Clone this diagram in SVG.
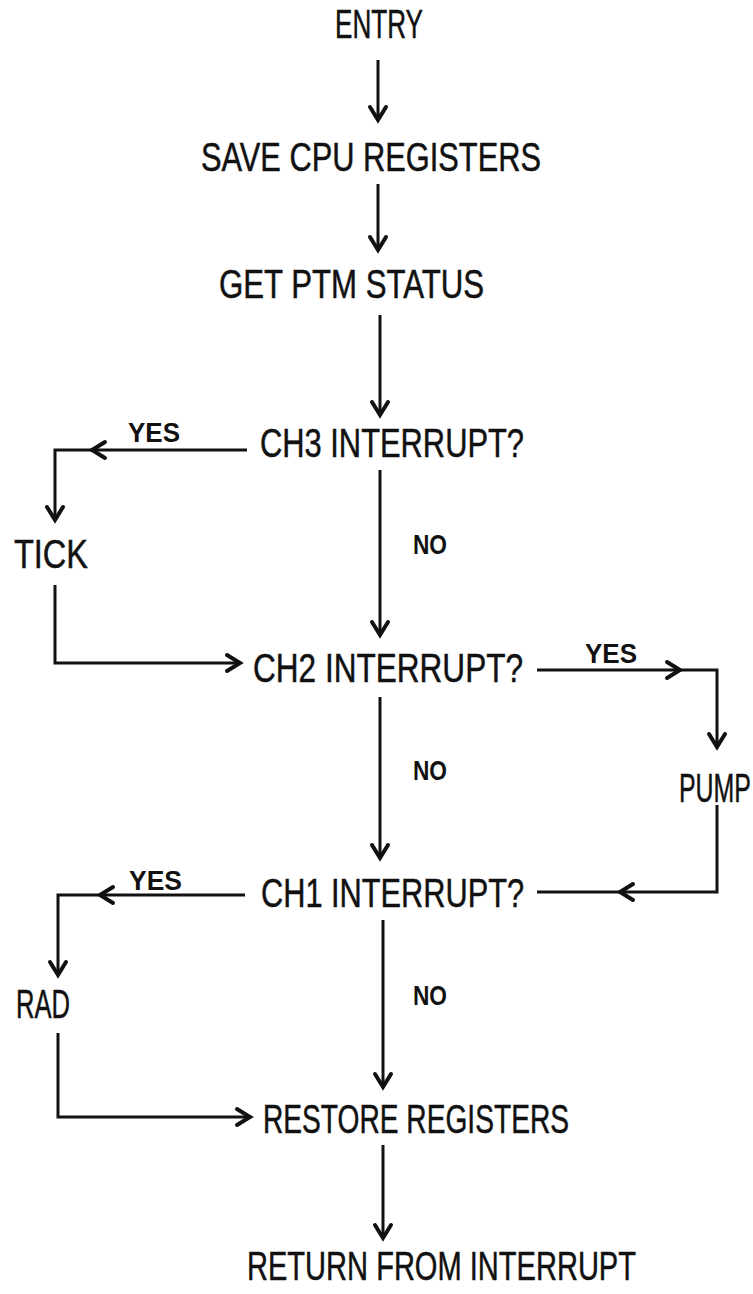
<svg xmlns="http://www.w3.org/2000/svg" xmlns:xlink="http://www.w3.org/1999/xlink" width="753" height="1294" viewBox="0 0 753 1294">
<style>
.t{font-family:"Liberation Sans",Arial,sans-serif;font-size:41px;fill:#111;stroke:#111;stroke-width:0.5;}
.s{font-family:"Liberation Sans",Arial,sans-serif;font-size:27px;font-weight:bold;fill:#111;}
.c{fill:none;stroke:#111;stroke-width:3;stroke-linejoin:miter;}
.ah{fill:none;stroke:#111;stroke-width:4;stroke-linejoin:miter;stroke-linecap:round;}
</style>
<defs>
<path id="ad" d="M-8,-13 L0,0 L8,-13" class="ah"/>
<path id="al" d="M13,-8 L0,0 L13,8" class="ah"/>
<path id="ar" d="M-13,-8 L0,0 L-13,8" class="ah"/>
</defs>
<rect width="753" height="1294" fill="#fff"/>
<g id="connectors">
<path class="c" d="M378,60 V120"/><use xlink:href="#ad" x="378" y="120"/>
<path class="c" d="M378,184 V250"/><use xlink:href="#ad" x="378" y="250"/>
<path class="c" d="M380,315 V415"/><use xlink:href="#ad" x="380" y="415"/>
<path class="c" d="M247,450 H55 V520"/><use xlink:href="#al" x="92" y="450"/><use xlink:href="#ad" x="55" y="520"/>
<path class="c" d="M380,470 V635"/><use xlink:href="#ad" x="380" y="635"/>
<path class="c" d="M55,585 V663 H240"/><use xlink:href="#ar" x="240" y="663"/>
<path class="c" d="M537,670 H717 V747"/><use xlink:href="#ar" x="680" y="670"/><use xlink:href="#ad" x="717" y="747"/>
<path class="c" d="M380,697 V858"/><use xlink:href="#ad" x="380" y="858"/>
<path class="c" d="M717,805 V892 H537"/><use xlink:href="#al" x="620" y="892"/>
<path class="c" d="M245,895 H58 V975"/><use xlink:href="#al" x="100" y="895"/><use xlink:href="#ad" x="58" y="975"/>
<path class="c" d="M383,920 V1087"/><use xlink:href="#ad" x="383" y="1087"/>
<path class="c" d="M58,1033 V1117 H250"/><use xlink:href="#ar" x="250" y="1117"/>
<path class="c" d="M383,1145 V1238"/><use xlink:href="#ad" x="383" y="1238"/>
</g>
<g id="entry"><text class="t" x="335" y="38" textLength="88" lengthAdjust="spacingAndGlyphs">ENTRY</text></g>
<g id="save"><text class="t" x="201" y="171" textLength="340" lengthAdjust="spacingAndGlyphs">SAVE CPU REGISTERS</text></g>
<g id="getstatus"><text class="t" x="219" y="298" textLength="265" lengthAdjust="spacingAndGlyphs">GET PTM STATUS</text></g>
<g id="ch3"><text class="t" x="260" y="457" textLength="264" lengthAdjust="spacingAndGlyphs">CH3 INTERRUPT?</text></g>
<g id="tick"><text class="t" x="14" y="568" textLength="74" lengthAdjust="spacingAndGlyphs">TICK</text></g>
<g id="ch2"><text class="t" x="253" y="682" textLength="270" lengthAdjust="spacingAndGlyphs">CH2 INTERRUPT?</text></g>
<g id="pump"><text class="t" x="679" y="802" textLength="72" lengthAdjust="spacingAndGlyphs">PUMP</text></g>
<g id="ch1"><text class="t" x="261" y="907" textLength="263" lengthAdjust="spacingAndGlyphs">CH1 INTERRUPT?</text></g>
<g id="rad"><text class="t" x="16" y="1018" textLength="54" lengthAdjust="spacingAndGlyphs">RAD</text></g>
<g id="restore"><text class="t" x="263" y="1133" textLength="306" lengthAdjust="spacingAndGlyphs">RESTORE REGISTERS</text></g>
<g id="return"><text class="t" x="247" y="1280" textLength="389" lengthAdjust="spacingAndGlyphs">RETURN FROM INTERRUPT</text></g>
<g id="labels">
<text class="s" x="128" y="442" textLength="52" lengthAdjust="spacingAndGlyphs">YES</text>
<text class="s" x="413" y="554" textLength="34" lengthAdjust="spacingAndGlyphs">NO</text>
<text class="s" x="585" y="663" textLength="52" lengthAdjust="spacingAndGlyphs">YES</text>
<text class="s" x="413" y="780" textLength="34" lengthAdjust="spacingAndGlyphs">NO</text>
<text class="s" x="129" y="890" textLength="53" lengthAdjust="spacingAndGlyphs">YES</text>
<text class="s" x="413" y="1005" textLength="34" lengthAdjust="spacingAndGlyphs">NO</text>
</g>
</svg>
